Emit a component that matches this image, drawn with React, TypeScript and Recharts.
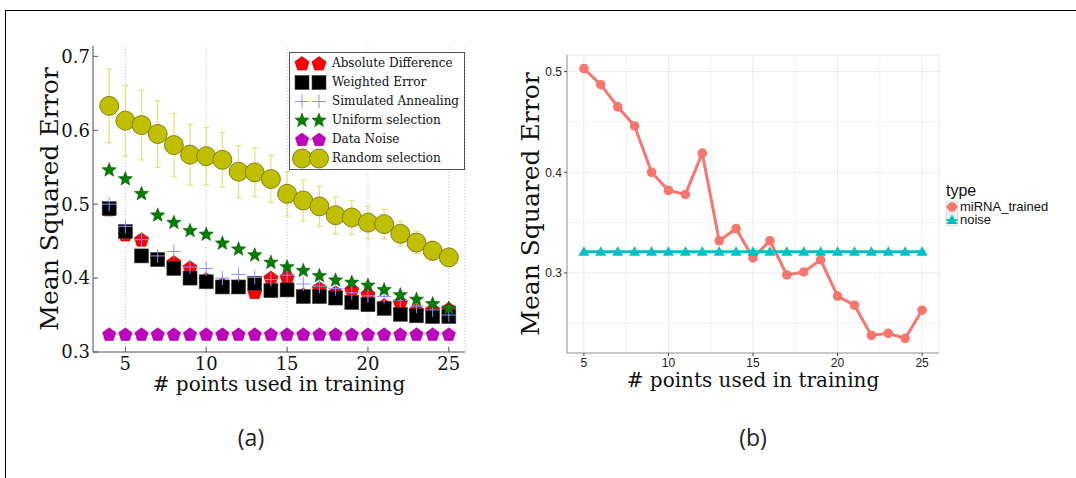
import {
  ComposedChart,
  Line,
  XAxis,
  YAxis,
  CartesianGrid,
  ErrorBar,
  Legend,
  Label,
  ReferenceLine,
} from "recharts";

// panel (a)
const pointsA = [4, 5, 6, 7, 8, 9, 10, 11, 12, 13, 14, 15, 16, 17, 18, 19, 20, 21, 22, 23, 24, 25];
const absoluteDifference = [0.493, 0.459, 0.452, 0.426, 0.421, 0.414, 0.398, 0.391, 0.389, 0.381, 0.4, 0.401, 0.377, 0.386, 0.38, 0.384, 0.378, 0.363, 0.367, 0.356, 0.357, 0.358];
const weightedError = [0.494, 0.463, 0.43, 0.425, 0.413, 0.4, 0.395, 0.388, 0.388, 0.393, 0.383, 0.384, 0.375, 0.375, 0.373, 0.367, 0.364, 0.359, 0.351, 0.349, 0.348, 0.348];
const simulatedAnnealing = [0.5, 0.47, 0.452, 0.43, 0.436, 0.415, 0.413, 0.4, 0.405, 0.401, 0.398, 0.404, 0.392, 0.389, 0.386, 0.38, 0.376, 0.375, 0.37, 0.362, 0.357, 0.35];
const uniformSelection = [0.546, 0.534, 0.514, 0.485, 0.475, 0.464, 0.459, 0.447, 0.439, 0.431, 0.421, 0.415, 0.41, 0.403, 0.397, 0.394, 0.39, 0.384, 0.377, 0.371, 0.365, 0.359];
const dataNoise = [0.324, 0.324, 0.324, 0.324, 0.324, 0.324, 0.324, 0.324, 0.324, 0.324, 0.324, 0.324, 0.324, 0.324, 0.324, 0.324, 0.324, 0.324, 0.324, 0.324, 0.324, 0.324];
const randomSelection = [0.633, 0.613, 0.607, 0.595, 0.58, 0.567, 0.565, 0.56, 0.544, 0.543, 0.534, 0.514, 0.505, 0.497, 0.485, 0.482, 0.475, 0.473, 0.46, 0.448, 0.437, 0.428];
const randomSelectionErr = [0.05, 0.048, 0.047, 0.045, 0.043, 0.041, 0.039, 0.037, 0.035, 0.033, 0.032, 0.03, 0.028, 0.027, 0.025, 0.023, 0.022, 0.02, 0.017, 0.015, 0.013, 0.01];
const xTicksA = [5, 10, 15, 20, 25];
const yTicksA = [0.3, 0.4, 0.5, 0.6, 0.7];

// panel (b)
const pointsB = [5, 6, 7, 8, 9, 10, 11, 12, 13, 14, 15, 16, 17, 18, 19, 20, 21, 22, 23, 24, 25];
const mirnaTrained = [0.503, 0.487, 0.465, 0.446, 0.4, 0.382, 0.378, 0.419, 0.332, 0.344, 0.315, 0.332, 0.298, 0.301, 0.313, 0.277, 0.268, 0.238, 0.24, 0.235, 0.263];
const noiseB = [0.321, 0.321, 0.321, 0.321, 0.321, 0.321, 0.321, 0.321, 0.321, 0.321, 0.321, 0.321, 0.321, 0.321, 0.321, 0.321, 0.321, 0.321, 0.321, 0.321, 0.321];
const xTicksB = [5, 10, 15, 20, 25];
const yTicksB = [0.3, 0.4, 0.5];
const minorXB = [7.5, 12.5, 17.5, 22.5];
const minorYB = [0.25, 0.35, 0.45];

const seriesA = [
  { key: "abs", name: "Absolute Difference" },
  { key: "weighted", name: "Weighted Error" },
  { key: "anneal", name: "Simulated Annealing" },
  { key: "uniform", name: "Uniform selection" },
  { key: "noise", name: "Data Noise" },
  { key: "random", name: "Random selection" },
];

const rowsA = pointsA.map((x, i) => ({
  x,
  abs: absoluteDifference[i],
  weighted: weightedError[i],
  anneal: simulatedAnnealing[i],
  uniform: uniformSelection[i],
  noise: dataNoise[i],
  random: randomSelection[i],
  randomErr: randomSelectionErr[i],
}));

const rowsB = pointsB.map((x, i) => ({ x, mirna: mirnaTrained[i], noise: noiseB[i] }));

const serif = "DejaVu Serif";
const sans = "Liberation Sans, Arial, sans-serif";

function pentagon(cx: number, cy: number, r: number) {
  const pts = [];
  for (let k = 0; k < 5; k++) {
    const a = ((-90 + 72 * k) * Math.PI) / 180;
    pts.push(`${cx + r * Math.cos(a)},${cy + r * Math.sin(a)}`);
  }
  return pts.join(" ");
}

function star(cx: number, cy: number, R: number, r: number) {
  const pts = [];
  for (let k = 0; k < 10; k++) {
    const a = ((-90 + 36 * k) * Math.PI) / 180;
    const rr = k % 2 === 0 ? R : r;
    pts.push(`${cx + rr * Math.cos(a)},${cy + rr * Math.sin(a)}`);
  }
  return pts.join(" ");
}

function Marker({ kind, cx, cy }: { kind: string; cx: number; cy: number }) {
  switch (kind) {
    case "abs":
      return <polygon points={pentagon(cx, cy + 0.5, 7.5)} fill="#ff0000" stroke="#c00000" strokeWidth={0.6} />;
    case "weighted":
      return <rect x={cx - 7} y={cy - 7} width={14} height={14} fill="#000" stroke="#444" strokeWidth={0.6} />;
    case "anneal":
      return <path d={`M${cx - 7},${cy}H${cx + 7}M${cx},${cy - 7}V${cy + 7}`} stroke="#8f8fff" strokeWidth={1} fill="none" />;
    case "uniform":
      return <polygon points={star(cx, cy, 7.5, 3.2)} fill="#007f00" stroke="#004d00" strokeWidth={0.5} />;
    case "noise":
      return <polygon points={pentagon(cx, cy + 0.5, 7)} fill="#bf00bf" stroke="#8a008a" strokeWidth={0.5} />;
    case "random":
      return <circle cx={cx} cy={cy} r={9.5} fill="#bfbf00" stroke="#6b6b00" strokeWidth={0.8} />;
    case "mirna":
      return <circle cx={cx} cy={cy} r={4.8} fill="#F8766D" />;
    case "noiseB":
      return <polygon points={`${cx},${cy - 5.5} ${cx + 5.5},${cy + 4} ${cx - 5.5},${cy + 4}`} fill="#00BFC4" />;
    default:
      return null;
  }
}

const dotOf = (kind: string) => (p: any) => {
  if (p.cx == null || p.cy == null) return <g key={`${kind}-${p.index}`} />;
  return (
    <g key={`${kind}-${p.index}`}>
      <Marker kind={kind} cx={p.cx} cy={p.cy} />
    </g>
  );
};

function LegendA() {
  return (
    <div
      style={{
        border: "1px solid #555",
        background: "#fff",
        padding: "1px 5px 1px 3px",
        fontFamily: serif,
        fontSize: 12,
        lineHeight: "19px",
        color: "#111",
      }}
    >
      {seriesA.map((s) => (
        <div key={s.key} style={{ display: "flex", alignItems: "center", height: 19 }}>
          <svg width={36} height={19} style={{ overflow: "visible" }}>
            {s.key === "noise" && <line x1={9} x2={26} y1={9.5} y2={9.5} stroke="#e8a4e8" />}
            <Marker kind={s.key} cx={9} cy={9.5} />
            <Marker kind={s.key} cx={26} cy={9.5} />
          </svg>
          <span style={{ marginLeft: 3, whiteSpace: "nowrap" }}>{s.name}</span>
        </div>
      ))}
    </div>
  );
}

function LegendB() {
  const items = [
    { key: "mirna", name: "miRNA_trained", color: "#F8766D" },
    { key: "noiseB", name: "noise", color: "#00BFC4" },
  ];
  return (
    <div style={{ fontFamily: sans, color: "#111" }}>
      <div style={{ fontSize: 16, lineHeight: "16px", marginBottom: 1 }}>type</div>
      {items.map((it) => (
        <div key={it.key} style={{ display: "flex", alignItems: "center", height: 13 }}>
          <svg width={12} height={12} style={{ overflow: "visible" }}>
            <rect x={0.5} y={0.5} width={11} height={11} fill="#fff" stroke="#ddd" />
            <line x1={0.5} x2={11.5} y1={6} y2={6} stroke={it.color} strokeWidth={2} />
            <Marker kind={it.key} cx={6} cy={6} />
          </svg>
          <span style={{ marginLeft: 2, fontSize: 13, lineHeight: "13px", whiteSpace: "nowrap" }}>{it.name}</span>
        </div>
      ))}
    </div>
  );
}

const axisA = "#555";

export default function App() {
  return (
    <div style={{ position: "absolute", left: 0, top: 0, width: 1076, height: 478, background: "#fff", overflow: "hidden" }}>
      <div style={{ position: "absolute", left: 5, top: 10, width: 1071, height: 468, borderTop: "1.5px solid #000", borderLeft: "1.5px solid #000" }} />

      <div style={{ position: "absolute", left: 0, top: 0 }}>
        <ComposedChart width={520} height={420} data={rowsA} margin={{ top: 46, left: 23, right: 55, bottom: 28 }}>
          <CartesianGrid horizontal={false} stroke="#c4c4c4" strokeDasharray="1 2" />
          <XAxis
            type="number"
            dataKey="x"
            domain={[3, 26]}
            ticks={xTicksA}
            allowDataOverflow
            height={40}
            stroke={axisA}
            tickSize={-5}
            tickMargin={10}
            tick={{ fontFamily: serif, fontSize: 18, fill: "#111" }}
          >
            <Label value="# points used in training" position="insideBottom" offset={1} style={{ fontFamily: serif, fontSize: 20, fill: "#111" }} />
          </XAxis>
          <XAxis xAxisId="top" orientation="top" type="number" domain={[3, 26]} ticks={xTicksA} allowDataOverflow height={0} stroke={axisA} tickSize={-5} tick={false} />
          <YAxis
            type="number"
            domain={[0.3, 0.714]}
            ticks={yTicksA}
            allowDataOverflow
            width={70}
            stroke={axisA}
            tickSize={-5}
            tickMargin={8}
            tickFormatter={(v: number) => v.toFixed(1)}
            tick={{ fontFamily: serif, fontSize: 18, fill: "#111" }}
          >
            <Label value="Mean Squared Error" angle={-90} position="insideLeft" offset={26} style={{ textAnchor: "middle", fontFamily: serif, fontSize: 25, fill: "#111" }} />
          </YAxis>
          <YAxis yAxisId="right" orientation="right" type="number" domain={[0.3, 0.714]} ticks={yTicksA} allowDataOverflow width={0} stroke={axisA} tickSize={-5} tick={false} />

          <Line dataKey="abs" stroke="none" isAnimationActive={false} dot={dotOf("abs")} activeDot={false} />
          <Line dataKey="weighted" stroke="none" isAnimationActive={false} dot={dotOf("weighted")} activeDot={false} />
          <Line dataKey="anneal" stroke="none" isAnimationActive={false} dot={dotOf("anneal")} activeDot={false} />
          <Line dataKey="uniform" stroke="none" isAnimationActive={false} dot={dotOf("uniform")} activeDot={false} />
          <Line dataKey="noise" stroke="#e8a4e8" strokeWidth={1.2} isAnimationActive={false} dot={dotOf("noise")} activeDot={false} />
          <Line dataKey="random" stroke="none" isAnimationActive={false} dot={false} activeDot={false}>
            <ErrorBar dataKey="randomErr" direction="y" width={3} stroke="#e2e27a" strokeWidth={1.2} />
          </Line>
          <Line dataKey="random" stroke="none" isAnimationActive={false} dot={dotOf("random")} activeDot={false} />

          <Legend layout="horizontal" verticalAlign="middle" align="center" content={LegendA} wrapperStyle={{ left: 289, top: 52, width: "auto", height: "auto" }} />
        </ComposedChart>
      </div>

      <div style={{ position: "absolute", left: 480, top: 0 }}>
        <ComposedChart width={596} height={420} data={rowsB} margin={{ top: 55, left: 47, right: 137, bottom: 37 }}>
          <CartesianGrid stroke="#ebebeb" />
          {minorXB.map((v) => (
            <ReferenceLine key={`mx${v}`} x={v} stroke="#f3f3f3" />
          ))}
          {minorYB.map((v) => (
            <ReferenceLine key={`my${v}`} y={v} stroke="#f3f3f3" />
          ))}
          <XAxis
            type="number"
            dataKey="x"
            domain={[4, 26]}
            ticks={xTicksB}
            allowDataOverflow
            height={30}
            stroke="#999"
            tickLine={{ stroke: "#444" }}
            tickSize={3}
            tickMargin={2}
            tick={{ fontFamily: sans, fontSize: 12, fill: "#222" }}
          >
            <Label value="# points used in training" position="insideBottom" offset={-4} style={{ fontFamily: serif, fontSize: 20, fill: "#111" }} />
          </XAxis>
          <XAxis xAxisId="top" orientation="top" type="number" domain={[4, 26]} allowDataOverflow height={0} stroke="#999" tick={false} tickLine={false} />
          <YAxis
            type="number"
            domain={[0.2205, 0.5165]}
            ticks={yTicksB}
            allowDataOverflow
            width={40}
            stroke="#999"
            tickLine={{ stroke: "#444" }}
            tickSize={3}
            tickMargin={2}
            tickFormatter={(v: number) => v.toFixed(1)}
            tick={{ fontFamily: sans, fontSize: 12, fill: "#222" }}
          >
            <Label value="Mean Squared Error" angle={-90} position="insideLeft" offset={3} style={{ textAnchor: "middle", fontFamily: serif, fontSize: 25, fill: "#111" }} />
          </YAxis>
          <YAxis yAxisId="right" orientation="right" type="number" domain={[0.2205, 0.5165]} allowDataOverflow width={0} stroke="#999" tick={false} tickLine={false} />

          <Line dataKey="mirna" type="linear" stroke="#F8766D" strokeWidth={3} isAnimationActive={false} dot={dotOf("mirna")} activeDot={false} />
          <Line dataKey="noise" type="linear" stroke="#00BFC4" strokeWidth={3} isAnimationActive={false} dot={dotOf("noiseB")} activeDot={false} />

          <Legend layout="horizontal" verticalAlign="middle" align="center" content={LegendB} wrapperStyle={{ left: 466, top: 183, width: "auto", height: "auto" }} />
        </ComposedChart>
      </div>

      <div style={{ position: "absolute", left: 251, top: 437, transform: "translate(-50%, -50%)", fontFamily: "Open Sans", fontSize: 23, color: "#222" }}>(a)</div>
      <div style={{ position: "absolute", left: 753, top: 437, transform: "translate(-50%, -50%)", fontFamily: "Open Sans", fontSize: 23, color: "#222" }}>(b)</div>
    </div>
  );
}
